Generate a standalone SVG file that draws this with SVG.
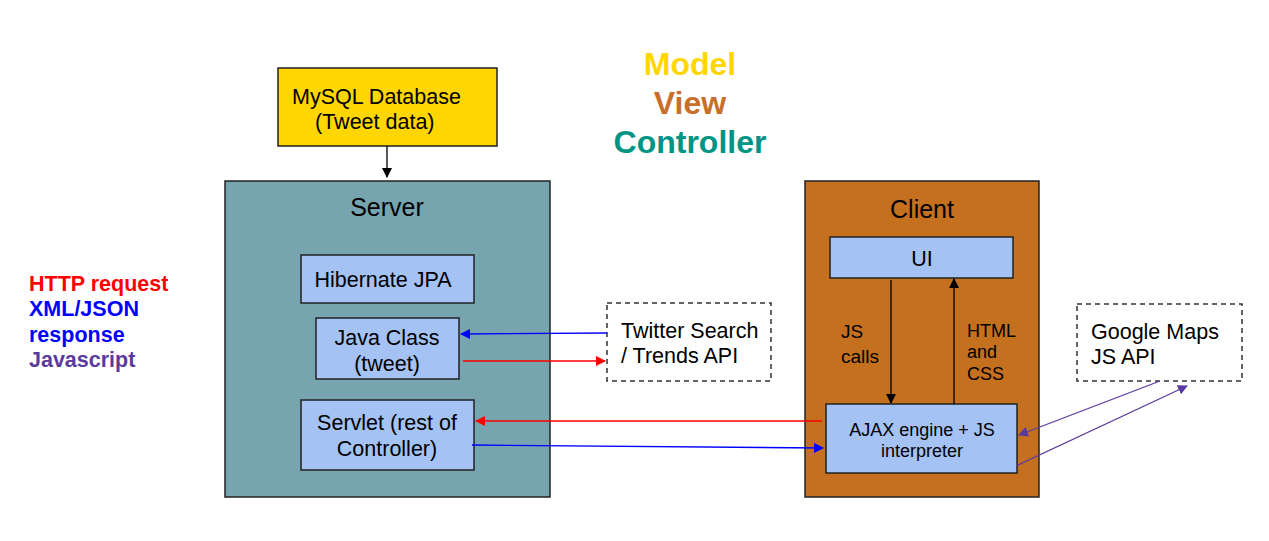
<svg xmlns="http://www.w3.org/2000/svg" width="1269" height="541" viewBox="0 0 1269 541">
<defs>
<style>
text{font-family:"Liberation Sans",Arial,sans-serif;fill:#000}
.box{fill:#a4c2f4;stroke:#222;stroke-width:1.5}
.dash{fill:#fff;stroke:#333;stroke-width:1.5;stroke-dasharray:5,4}
.t20{font-size:21.5px}
.t17{font-size:18px}
.leg{font-size:21.5px;font-weight:bold}
.mvc{font-size:32px;font-weight:bold;text-anchor:middle}
.mid{text-anchor:middle}
</style>
<marker id="ak" viewBox="0 0 10 10" refX="9" refY="5" markerWidth="10" markerHeight="10" markerUnits="userSpaceOnUse" orient="auto"><path d="M0,0L10,5L0,10z" fill="#000"/></marker>
<marker id="ar" viewBox="0 0 10 10" refX="9" refY="5" markerWidth="10" markerHeight="10" markerUnits="userSpaceOnUse" orient="auto"><path d="M0,0L10,5L0,10z" fill="#ff0000"/></marker>
<marker id="ab" viewBox="0 0 10 10" refX="9" refY="5" markerWidth="10" markerHeight="10" markerUnits="userSpaceOnUse" orient="auto"><path d="M0,0L10,5L0,10z" fill="#0000ff"/></marker>
<marker id="ap" viewBox="0 0 10 10" refX="9" refY="5" markerWidth="10" markerHeight="10" markerUnits="userSpaceOnUse" orient="auto"><path d="M0,0L10,5L0,10z" fill="#5b3a9e"/></marker>
</defs>
<rect width="1269" height="541" fill="#fff"/>

<g id="title">
<text class="mvc" x="690" y="75" style="fill:#ffd600">Model</text>
<text class="mvc" x="690" y="114" style="fill:#c8702a">View</text>
<text class="mvc" x="690" y="153" style="fill:#009485">Controller</text>
</g>

<g id="legend">
<text class="leg" x="29" y="291" style="fill:#ff0000">HTTP request</text>
<text class="leg" x="29" y="316" style="fill:#0000ff">XML/JSON</text>
<text class="leg" x="29" y="342" style="fill:#0000ff">response</text>
<text class="leg" x="29" y="367" style="fill:#5b3a9e">Javascript</text>
</g>

<g id="mysql">
<rect x="278" y="68" width="219" height="78" fill="#ffd600" stroke="#222" stroke-width="1.5"/>
<text class="t20" x="292" y="104">MySQL Database</text>
<text class="t20" x="315" y="129">(Tweet data)</text>
</g>

<g id="server">
<rect x="225" y="181" width="325" height="316" fill="#76a5af" stroke="#222" stroke-width="1.5"/>
<text class="mid" x="387" y="216" style="font-size:25px">Server</text>
</g>

<g id="hibernate">
<rect class="box" x="301" y="255" width="173" height="48"/>
<text class="t20 mid" x="383" y="287">Hibernate JPA</text>
</g>

<g id="javaclass">
<rect class="box" x="316" y="318" width="143" height="61"/>
<text class="t20 mid" x="387" y="345">Java Class</text>
<text class="t20 mid" x="387" y="371">(tweet)</text>
</g>

<g id="servlet">
<rect class="box" x="301" y="400" width="173" height="70"/>
<text class="t20 mid" x="387" y="430">Servlet (rest of</text>
<text class="t20 mid" x="387" y="456">Controller)</text>
</g>

<g id="twitter">
<rect class="dash" x="607" y="303" width="164" height="78"/>
<text class="t20" x="621" y="338">Twitter Search</text>
<text class="t20" x="621" y="363">/ Trends API</text>
</g>

<g id="client">
<rect x="805" y="181" width="234" height="316" fill="#c5701f" stroke="#222" stroke-width="1.5"/>
<text class="mid" x="922" y="218" style="font-size:25px">Client</text>
</g>

<g id="ui">
<rect class="box" x="830" y="237" width="183" height="41"/>
<text class="t20 mid" x="922" y="266">UI</text>
</g>

<g id="ajax">
<rect class="box" x="826" y="404" width="191" height="69"/>
<text class="t17 mid" x="922" y="436">AJAX engine + JS</text>
<text class="t17 mid" x="922" y="457">interpreter</text>
</g>

<g id="gmaps">
<rect class="dash" x="1077" y="304" width="165" height="77"/>
<text class="t20" x="1091" y="339">Google Maps</text>
<text class="t20" x="1091" y="364">JS API</text>
</g>

<g id="labels">
<text x="841" y="338" style="font-size:19px">JS</text>
<text x="841" y="363" style="font-size:19px">calls</text>
<text class="t17" x="967" y="337">HTML</text>
<text class="t17" x="967" y="358">and</text>
<text class="t17" x="967" y="380">CSS</text>
</g>

<g id="connectors" fill="none" stroke-width="1.3">
<line x1="387" y1="146" x2="387" y2="177" stroke="#000" marker-end="url(#ak)"/>
<line x1="607" y1="333" x2="461" y2="334" stroke="#0000ff" marker-end="url(#ab)"/>
<line x1="463" y1="361" x2="605" y2="361" stroke="#ff0000" marker-end="url(#ar)"/>
<line x1="822" y1="421" x2="476" y2="421" stroke="#ff0000" marker-end="url(#ar)"/>
<line x1="472" y1="445" x2="823" y2="448" stroke="#0000ff" marker-end="url(#ab)"/>
<line x1="891" y1="280" x2="891" y2="403" stroke="#000" marker-end="url(#ak)"/>
<line x1="954" y1="404" x2="954" y2="279" stroke="#000" marker-end="url(#ak)"/>
<line x1="1160" y1="381" x2="1019" y2="435" stroke="#5b3a9e" marker-end="url(#ap)"/>
<line x1="1016" y1="466" x2="1187" y2="386" stroke="#5b3a9e" marker-end="url(#ap)"/>
</g>
</svg>
